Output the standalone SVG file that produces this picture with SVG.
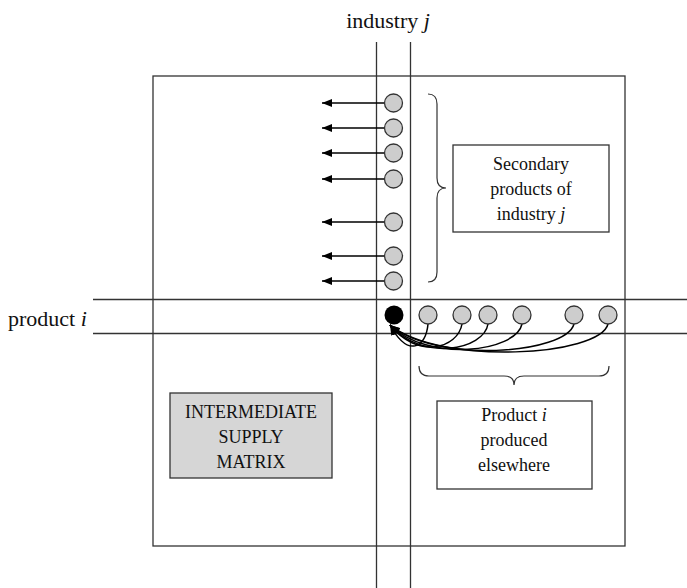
<svg xmlns="http://www.w3.org/2000/svg" width="687" height="588" viewBox="0 0 687 588">
<defs>
<marker id="ah" markerUnits="userSpaceOnUse" markerWidth="10" markerHeight="8" refX="10" refY="4" orient="auto">
<path d="M0,0 L10,4 L0,8 z" fill="#000"/>
</marker>
<style>
.grid{stroke:#333;stroke-width:1.3;fill:none}
.box{stroke:#333;stroke-width:1.3;fill:#fff}
.dot{fill:#cdcdcd;stroke:#333;stroke-width:1.3}
.arr{stroke:#000;stroke-width:1.5;fill:none;marker-end:url(#ah)}
.brace{stroke:#333;stroke-width:1.2;fill:none}
text{font-family:"Liberation Serif","Times New Roman",serif;fill:#111;text-anchor:middle}
.lbl{font-size:22px}
.bt{font-size:18px}
</style>
</defs>
<rect width="687" height="588" fill="#fff"/>
<g id="frame">
<rect class="grid" x="153" y="76" width="472" height="470"/>
<line class="grid" x1="376.5" y1="42" x2="376.5" y2="588"/>
<line class="grid" x1="410.5" y1="42" x2="410.5" y2="588"/>
<line class="grid" x1="93" y1="299.5" x2="687" y2="299.5"/>
<line class="grid" x1="93" y1="333.5" x2="687" y2="333.5"/>
</g>
<g id="labels">
<text class="lbl" x="388" y="28">industry <tspan font-style="italic">j</tspan></text>
<text class="lbl" x="8" y="326" style="text-anchor:start">product <tspan font-style="italic">i</tspan></text>
</g>
<g id="connectors">
<line class="arr" x1="384" y1="103" x2="322" y2="103"/>
<line class="arr" x1="384" y1="128" x2="322" y2="128"/>
<line class="arr" x1="384" y1="153" x2="322" y2="153"/>
<line class="arr" x1="384" y1="179" x2="322" y2="179"/>
<line class="arr" x1="384" y1="222" x2="322" y2="222"/>
<line class="arr" x1="384" y1="256" x2="322" y2="256"/>
<line class="arr" x1="384" y1="281" x2="322" y2="281"/>
<path class="arr" d="M428,324 C426,348 408,358 390,325"/>
<path class="arr" d="M462,324 C458,348 418,360 390,325"/>
<path class="arr" d="M488,324 C484,350 422,362 390,325"/>
<path class="arr" d="M522,324 C516,352 428,363 390,325"/>
<path class="arr" d="M574,324 C566,354 436,364 390,325"/>
<path class="arr" d="M608,324 C600,356 442,366 390,325"/>
</g>
<g id="column-dots">
<circle class="dot" cx="393.5" cy="103" r="9"/>
<circle class="dot" cx="393.5" cy="128" r="9"/>
<circle class="dot" cx="393.5" cy="153" r="9"/>
<circle class="dot" cx="393.5" cy="179" r="9"/>
<circle class="dot" cx="393.5" cy="222" r="9"/>
<circle class="dot" cx="393.5" cy="256" r="9"/>
<circle class="dot" cx="393.5" cy="281" r="9"/>
</g>
<g id="row-dots">
<circle cx="394" cy="315" r="9.5" fill="#000"/>
<circle class="dot" cx="428" cy="315" r="9"/>
<circle class="dot" cx="462" cy="315" r="9"/>
<circle class="dot" cx="488" cy="315" r="9"/>
<circle class="dot" cx="522" cy="315" r="9"/>
<circle class="dot" cx="574" cy="315" r="9"/>
<circle class="dot" cx="608" cy="315" r="9"/>
</g>
<g id="braces">
<path class="brace" d="M428,94 Q437,94 437,104 L437,178 Q437,188 446,188 Q437,188 437,198 L437,272 Q437,282 428,282"/>
<path class="brace" d="M419,366 Q419,376 429,376 L504,376 Q514,376 514,385 Q514,376 524,376 L599,376 Q609,376 609,366"/>
</g>
<g id="secondary-box">
<rect class="box" x="453" y="145" width="156" height="87"/>
<text class="bt" x="531" y="170">Secondary</text>
<text class="bt" x="531" y="195">products of</text>
<text class="bt" x="531" y="220">industry <tspan font-style="italic">j</tspan></text>
</g>
<g id="elsewhere-box">
<rect class="box" x="437" y="401" width="155" height="88"/>
<text class="bt" x="514" y="421">Product <tspan font-style="italic">i</tspan></text>
<text class="bt" x="514" y="446">produced</text>
<text class="bt" x="514" y="471">elsewhere</text>
</g>
<g id="supply-box">
<rect x="170" y="393" width="162" height="85" fill="#d6d6d6" stroke="#333" stroke-width="1.3"/>
<text class="bt" x="251" y="418">INTERMEDIATE</text>
<text class="bt" x="251" y="443">SUPPLY</text>
<text class="bt" x="251" y="468">MATRIX</text>
</g>
</svg>
